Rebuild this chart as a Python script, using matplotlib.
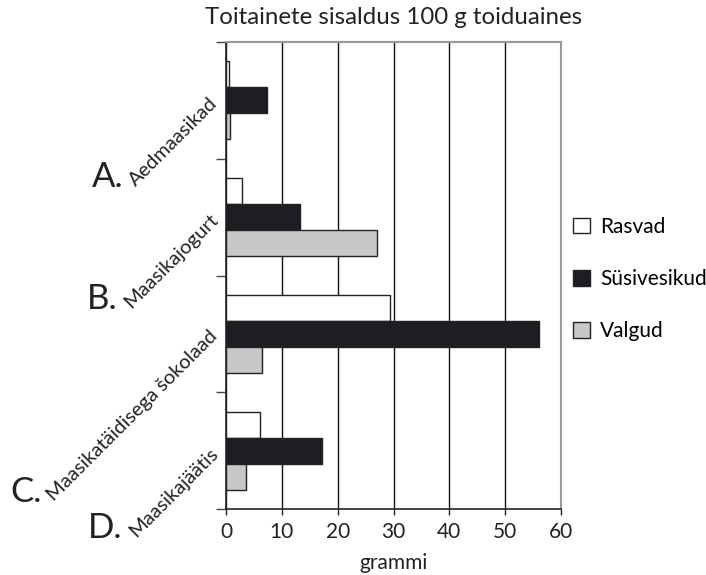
import numpy as np
import matplotlib.pyplot as plt
from matplotlib.patches import Patch

plt.rcParams['font.family'] = ['Lato', 'DejaVu Sans']

letters = ["A.", "B.", "C.", "D."]
products = ["Aedmaasikad", "Maasikajogurt", "Maasikatäidisega šokolaad", "Maasikajäätis"]
nutrients = ["Rasvad", "Süsivesikud", "Valgud"]
rasvad = [0.5, 2.9, 29.4, 6.0]
susivesikud = [7.4, 13.2, 56.1, 17.2]
valgud = [0.8, 27.1, 6.45, 3.6]
colors = ["#ffffff", "#1d1e21", "#c6c8ca"]

fig = plt.figure(figsize=(7.06, 5.75), dpi=100)
ax = fig.add_axes([226 / 706, 1 - 509 / 575, (561 - 226) / 706, (509 - 42) / 575])

y = np.arange(len(products))
h = 0.222
for i, (vals, col) in enumerate(zip([rasvad, susivesikud, valgud], colors)):
    ax.barh(y + (i - 1) * h, vals, height=h, color=col, edgecolor="#222222",
            linewidth=1.0, zorder=3)

ax.set_xlim(0, 60)
ax.set_ylim(3.5, -0.5)
ax.set_xticks(np.arange(0, 61, 10))
ax.tick_params(axis='x', labelsize=15, length=4, width=1, colors='#222222', pad=5)
ax.xaxis.grid(True, color='#111111', linewidth=1.0)
ax.set_axisbelow(True)

ax.set_yticks(y)
ax.set_yticklabels(products, rotation=45, ha='right', va='center',
                   rotation_mode='anchor', fontsize=14.5, color='#222222')
ax.tick_params(axis='y', which='major', length=0, pad=8)
ax.set_yticks(np.arange(-0.5, 4, 1), minor=True)
ax.tick_params(axis='y', which='minor', length=7, width=1, color='#444444')

for side in ['left', 'bottom']:
    ax.spines[side].set_color('#222222')
    ax.spines[side].set_linewidth(1.2)
for side in ['top', 'right']:
    ax.spines[side].set_color('#999999')
    ax.spines[side].set_linewidth(1.5)

ax.set_xlabel("grammi", fontsize=15, color='#222222', labelpad=8)
fig.text(394 / 706, 1 - 18 / 575, "Toitainete sisaldus 100 g toiduaines",
         ha='center', va='center', fontsize=17.3, color='#222222')

handles = [Patch(facecolor=c, edgecolor='#222222', linewidth=1.0) for c in colors]
fig.legend(handles, nutrients, loc='center left', bbox_to_anchor=(573 / 706, 1 - 279 / 575),
           frameon=False, fontsize=15, handlelength=0.8, handleheight=0.8,
           handletextpad=0.5, labelspacing=1.55, borderpad=0, borderaxespad=0)

# big letters in front of each rotated label
fig.canvas.draw()
for lab, letter in zip(ax.get_yticklabels(), letters):
    bb = lab.get_window_extent()
    fx, fy = fig.transFigure.inverted().transform((bb.x0 - 3, bb.y0 + 2))
    fig.text(fx, fy, letter, ha='right', va='baseline', fontsize=25, color='#222222')

fig.savefig("out.png", dpi=100)
